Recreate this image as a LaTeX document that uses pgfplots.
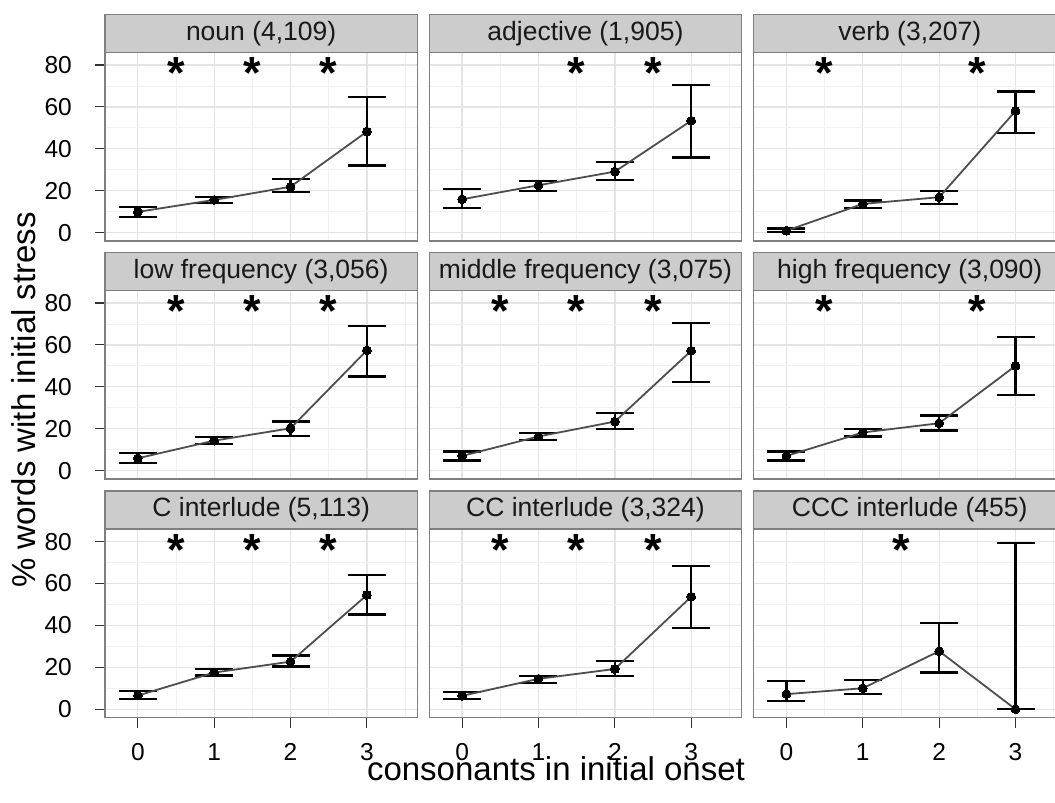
\documentclass[border=0pt]{standalone}
\usepackage{pgfplots}
\pgfplotsset{compat=1.18}
\usepackage{pgfplotstable}
\usepackage{fontspec}
\setmainfont{Liberation Sans}
\definecolor{stripfill}{HTML}{CCCCCC}
\definecolor{bordergray}{HTML}{7F7F7F}
\definecolor{gridmaj}{HTML}{E4E4E4}
\definecolor{gridmin}{HTML}{F1F1F1}
\definecolor{linegray}{HTML}{4D4D4D}
\definecolor{tickgray}{HTML}{333333}

\pgfplotstableread{
x y lo hi
0 9.9 7.5 12.2
1 15.6 14.0 17.0
2 21.9 19.2 25.6
3 48.2 32.0 64.9
}\tnoun
\pgfplotstableread{
x y lo hi
0 15.9 11.6 20.8
1 22.6 20.0 24.8
2 29.1 25.0 33.6
3 53.4 35.8 70.3
}\tadj
\pgfplotstableread{
x y lo hi
0 0.9 0.2 2.0
1 13.7 11.6 15.3
2 16.9 13.8 20.0
3 58.0 47.4 67.3
}\tverb
\pgfplotstableread{
x y lo hi
0 5.9 3.8 8.3
1 14.3 12.6 15.9
2 20.2 16.7 23.4
3 57.4 44.9 69.2
}\tlow
\pgfplotstableread{
x y lo hi
0 7.0 4.8 9.1
1 16.3 14.7 17.8
2 23.4 19.9 27.4
3 57.2 42.2 70.4
}\tmid
\pgfplotstableread{
x y lo hi
0 7.0 4.8 9.1
1 18.2 16.3 19.9
2 22.6 19.1 26.3
3 50.0 36.2 63.7
}\thigh
\pgfplotstableread{
x y lo hi
0 6.5 4.8 8.7
1 17.5 16.1 19.1
2 22.7 20.4 25.6
3 54.5 45.2 64.2
}\tC
\pgfplotstableread{
x y lo hi
0 6.4 4.8 8.1
1 14.5 12.7 15.9
2 19.2 15.9 23.1
3 53.7 38.6 68.5
}\tCC
\pgfplotstableread{
x y lo hi
0 7.2 3.8 13.5
1 10.0 7.3 14.0
2 27.7 17.5 41.0
3 0.0 0.0 79.5
}\tCCC

\pgfplotsset{
  panel/.style={
    scale only axis, width=312.3pt, height=188.6pt,
    anchor=south west,
    xmin=-0.43, xmax=3.66, ymin=-4, ymax=86,
    xtick={0,1,2,3}, ytick={0,20,40,60,80},
    minor xtick={0.5,1.5,2.5,3.5}, minor ytick={10,30,50,70},
    grid=both,
    major grid style={gridmaj, line width=1.3pt},
    minor grid style={gridmin, line width=0.7pt},
    axis line style={bordergray, line width=1.3pt},
    tick align=outside, major tick length=10pt, minor tick length=0pt,
    tick style={tickgray, line width=1.1pt},
    xtick pos=left, ytick pos=left,
    /pgf/number format/assume math mode=true,
    ticklabel style={font=\fontsize{24.5}{30}\selectfont, text=black},
    yticklabel style={anchor=east, inner sep=0pt, xshift=-23pt},
    xticklabel style={anchor=north, inner sep=0pt, yshift=-16pt},
    title style={at={(axis description cs:0.5,1)}, anchor=south, yshift=-6pt,
      fill=stripfill, draw=bordergray, line width=1.3pt,
      minimum width=312.3pt, minimum height=38pt, inner sep=0pt, outer sep=0pt,
      font=\fontsize{26.5}{30}\selectfont, text=black!90},
  },
  innerx/.style={xticklabels={}, xtick style={draw=none}},
  innery/.style={yticklabels={}, ytick style={draw=none}},
}

\newcommand{\panel}[2]{%
  \addplot[only marks, mark=none, error bars/.cd, y dir=both, y explicit,
    error bar style={black, line width=2.2pt},
    error mark options={rotate=90, black, line width=2.2pt, mark size=19pt}]
    table[x=x, y=y, y error plus expr=\thisrow{hi}-\thisrow{y}, y error minus expr=\thisrow{y}-\thisrow{lo}] {#1};
  \addplot[linegray, line width=1.8pt, mark=*, mark size=4.4pt, mark options={black, fill=black, line width=0pt}]
    table[x=x, y=y] {#1};
  \addplot[only marks, mark=none, nodes near coords={*},
    every node near coord/.append style={anchor=base, inner sep=0pt, text=black,
      font=\fontsize{45}{45}\selectfont\bfseries, yshift=-23.9pt}]
    coordinates {#2};
}

\begin{document}
\begin{tikzpicture}
\path[use as bounding box] (0,0) rectangle (1055pt,803pt);
% row 1
\begin{axis}[panel, innerx, at={(105pt,562pt)}, title={noun (4,109)}]
\panel{\tnoun}{(0.5,80) (1.5,80) (2.5,80)}
\end{axis}
\begin{axis}[panel, innerx, innery, at={(429.3pt,562pt)}, title={adjective (1,905)}]
\panel{\tadj}{(1.5,80) (2.5,80)}
\end{axis}
\begin{axis}[panel, innerx, innery, at={(753.6pt,562pt)}, title={verb (3,207)}]
\panel{\tverb}{(0.5,80) (2.5,80)}
\end{axis}
% row 2
\begin{axis}[panel, innerx, at={(105pt,324pt)}, title={low frequency (3,056)}]
\panel{\tlow}{(0.5,80) (1.5,80) (2.5,80)}
\end{axis}
\begin{axis}[panel, innerx, innery, at={(429.3pt,324pt)}, title={middle frequency (3,075)}]
\panel{\tmid}{(0.5,80) (1.5,80) (2.5,80)}
\end{axis}
\begin{axis}[panel, innerx, innery, at={(753.6pt,324pt)}, title={high frequency (3,090)}]
\panel{\thigh}{(0.5,80) (2.5,80)}
\end{axis}
% row 3
\begin{axis}[panel, at={(105pt,85.4pt)}, title={C interlude (5,113)}]
\panel{\tC}{(0.5,80) (1.5,80) (2.5,80)}
\end{axis}
\begin{axis}[panel, innery, at={(429.3pt,85.4pt)}, title={CC interlude (3,324)}]
\panel{\tCC}{(0.5,80) (1.5,80) (2.5,80)}
\end{axis}
\begin{axis}[panel, innery, at={(753.6pt,85.4pt)}, title={CCC interlude (455)}]
\panel{\tCCC}{(1.5,80)}
\end{axis}
\node[anchor=base, font=\fontsize{33}{40}\selectfont, text=black] at (556pt,22pt) {consonants in initial onset};
\node[rotate=90, anchor=base, font=\fontsize{33}{40}\selectfont, text=black] at (35pt,403pt) {\% words with initial stress};
\end{tikzpicture}
\end{document}
